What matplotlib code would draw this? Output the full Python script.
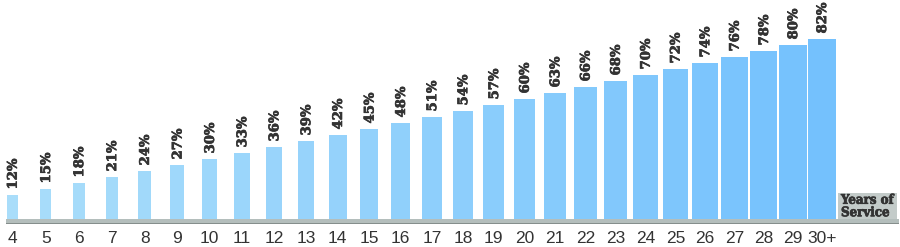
import numpy as np
import matplotlib
matplotlib.use("Agg")
import matplotlib.pyplot as plt
import matplotlib.patheffects as pe
from matplotlib.colors import LinearSegmentedColormap
from matplotlib.patches import Rectangle

# ---- data ----
categories = ["4", "5", "6", "7", "8", "9", "10", "11", "12", "13", "14", "15", "16",
              "17", "18", "19", "20", "21", "22", "23", "24", "25", "26", "27", "28",
              "29", "30+"]
values = [12, 15, 18, 21, 24, 27, 30, 33, 36, 39, 42, 45, 48, 51, 54, 57, 60, 63,
          66, 68, 70, 72, 74, 76, 78, 80, 82]
value_labels = [f"{v}%" for v in values]
axis_title = "Years of\nService"

# ---- layout (pixel-like x coordinates) ----
W, H, DPI = 900, 247, 100
base_px = 28  # baseline height from bottom in px
n = len(categories)
idx = np.arange(n)
centers = 12.5 + 33.4 * idx - 0.0873 * idx ** 2
widths = 10.5 + 0.7 * idx

# piecewise vertical scale (steps above 66% are stretched)
BRK, K = 66.0, 1.5
def fwd(v):
    v = np.asarray(v, dtype=float)
    return np.where(v <= BRK, v, BRK + (v - BRK) * K)
def inv(s):
    s = np.asarray(s, dtype=float)
    return np.where(s <= BRK, s, BRK + (s - BRK) / K)

fig = plt.figure(figsize=(W / DPI, H / DPI), dpi=DPI)
ax = fig.add_axes([0, base_px / H, 1, (H - base_px) / H])
ax.set_yscale("function", functions=(fwd, inv))
top_scaled = (H - base_px) / 2.0  # 2 px per scaled unit
ax.set_xlim(0, W)
ax.set_ylim(0, float(inv(top_scaled)))

cmap = LinearSegmentedColormap.from_list("blues", ["#a9ddfa", "#74c1fd"])
colors = [cmap(i / (n - 1)) for i in idx]

ax.bar(centers, values, width=widths, color=colors, edgecolor="none", zorder=2)

heavy = [pe.withStroke(linewidth=0.5, foreground="#333333")]
for x, v, lab in zip(centers, values, value_labels):
    ax.annotate(lab, (x, v), xytext=(0.5, 4.0), textcoords="offset points",
                rotation=90, ha="center", va="bottom", color="#333333",
                fontsize=9.5, fontweight="bold",
                family="DejaVu Serif", path_effects=heavy)

for s in ax.spines.values():
    s.set_visible(False)
ax.set_yticks([])
ax.set_xticks(centers, categories)
ax.tick_params(axis="x", length=0, pad=8.5, labelsize=12.5, labelcolor="#333333")
for t in ax.get_xticklabels():
    t.set_family("Liberation Sans")

# baseline band (in pixel units below the axes)
trans = ax.get_xaxis_transform()
px = 1.0 / (H - base_px)
ax.add_patch(Rectangle((6, -4 * px), 893, 4 * px, transform=trans,
                       facecolor="#b4bebc", edgecolor="none", clip_on=False, zorder=3))
ax.add_patch(Rectangle((6, -5.3 * px), 893, 1.4 * px, transform=trans,
                       facecolor="#858e8c", edgecolor="none", clip_on=False, zorder=3))

# axis title box
ax.add_patch(Rectangle((838, 0), 59, 26 * px, transform=trans,
                       facecolor="#c3cbc9", edgecolor="none", zorder=3))
ax.text(841, 12.5 * px, axis_title, transform=trans, ha="left", va="center",
        fontsize=9.5, fontweight="bold", fontstretch="condensed",
        family="DejaVu Serif", color="#333333", linespacing=0.95, zorder=4,
        path_effects=[pe.withStroke(linewidth=0.5, foreground="#333333")])

fig.savefig("out.png", dpi=DPI)
